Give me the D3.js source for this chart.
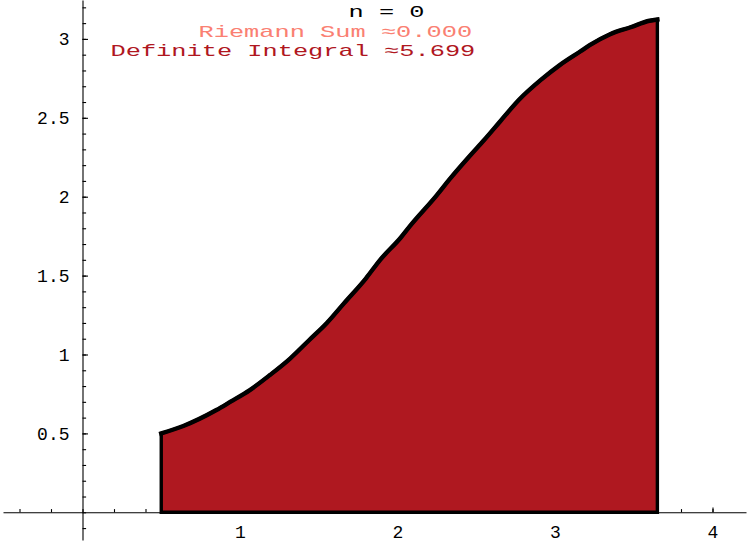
<!DOCTYPE html>
<html><head><meta charset="utf-8">
<script src="https://cdn.jsdelivr.net/npm/d3@7"></script>
<style>html,body{margin:0;padding:0;background:#fff;}svg{display:block;}</style>
</head><body>
<script>
// ---- data ----
const curveX = [0.50, 0.64, 0.85, 0.94, 1.06, 1.19, 1.32, 1.44, 1.55, 1.66, 1.80, 1.89, 2.02, 2.08, 2.25, 2.33, 2.46, 2.55, 2.65, 2.77, 2.91, 3.03, 3.16, 3.22, 3.35, 3.48, 3.60, 3.65];
const curveY = [0.500, 0.547, 0.648, 0.701, 0.773, 0.870, 0.976, 1.092, 1.198, 1.324, 1.483, 1.600, 1.740, 1.815, 2.010, 2.110, 2.260, 2.359, 2.475, 2.613, 2.740, 2.834, 2.920, 2.960, 3.030, 3.074, 3.115, 3.123];
const xTickValues = [1, 2, 3, 4];
const xTickLabels = ["1", "2", "3", "4"];
const yTickValues = [0.5, 1, 1.5, 2, 2.5, 3];
const yTickLabels = ["0.5", "1", "1.5", "2", "2.5", "3"];
const titleLines = [
  {text: "n = 0", color: "#000000"},
  {text: "Riemann Sum \u22480.000", color: "#FA8072"},
  {text: "Definite Integral \u22485.699", color: "#B0171F"}
];

const W = 750, H = 546;
const svg = d3.select("body").append("svg").attr("width", W).attr("height", H);

const x = d3.scaleLinear().domain([0, 4]).range([82.5, 712.5]);
const y = d3.scaleLinear().domain([0, 3]).range([512.3, 38.9]);

const tickFont = "'Liberation Mono', 'DejaVu Sans Mono', monospace";

// x axis
const xa = x.copy().domain([x.invert(3), x.invert(746)]).range([3, 746]);
const xMinor = d3.range(-0.4, 4.01, 0.2).map(v => +v.toFixed(2));
svg.append("g").attr("transform", "translate(0,512.3)")
  .call(d3.axisBottom(xa).tickValues(xMinor).tickSizeInner(-3.2).tickSizeOuter(0).tickFormat(""))
  .call(g => g.selectAll("line,path").attr("stroke", "#000").attr("stroke-width", 1.1));
svg.append("g").attr("transform", "translate(0,512.3)")
  .call(d3.axisBottom(xa).tickValues(xTickValues).tickSizeInner(-4.8).tickSizeOuter(0).tickPadding(13)
    .tickFormat((d, i) => xTickLabels[i]))
  .call(g => g.select(".domain").remove())
  .call(g => g.selectAll("line").attr("stroke", "#000").attr("stroke-width", 1.1))
  .call(g => g.selectAll("text").attr("font-family", tickFont).attr("font-size", 18).attr("fill", "#000"));

// y axis
const ya = y.copy().domain([y.invert(540), y.invert(0)]).range([540, 0]);
const yMinor = d3.range(-0.1, 3.21, 0.1).map(v => +v.toFixed(2));
svg.append("g").attr("transform", "translate(82.5,0)")
  .call(d3.axisLeft(ya).tickValues(yMinor).tickSizeInner(-3.6).tickSizeOuter(0).tickFormat(""))
  .call(g => g.selectAll("line,path").attr("stroke", "#000").attr("stroke-width", 1.1));
svg.append("g").attr("transform", "translate(82.5,0)")
  .call(d3.axisLeft(ya).tickValues(yTickValues).tickSizeInner(-5.5).tickSizeOuter(0).tickPadding(13)
    .tickFormat((d, i) => yTickLabels[i]))
  .call(g => g.select(".domain").remove())
  .call(g => g.selectAll("line").attr("stroke", "#000").attr("stroke-width", 1.1))
  .call(g => g.selectAll("text").attr("font-family", tickFont).attr("font-size", 18).attr("fill", "#000"));

// filled area
const pts = curveX.map((d, i) => [d, curveY[i]]);
const area = d3.area().x(d => x(d[0])).y0(y(0)).y1(d => y(d[1])).curve(d3.curveMonotoneX);
svg.append("path").datum(pts).attr("d", area)
  .attr("fill", "#AF1820").attr("stroke", "#000").attr("stroke-width", 3.4)
  .attr("stroke-linejoin", "miter");
const line = d3.line().x(d => x(d[0])).y(d => y(d[1])).curve(d3.curveMonotoneX);
svg.append("path").datum(pts).attr("d", line)
  .attr("fill", "none").attr("stroke", "#000").attr("stroke-width", 4.4).attr("stroke-linecap", "square");

// title text
const titleX = [348.5, 198.5, 110.5];
const titleY = [17, 36.5, 56];
const charW = 15.2;
svg.selectAll("text.title").data(titleLines).join("text")
  .attr("class", "title")
  .attr("x", (d, i) => titleX[i]).attr("y", (d, i) => titleY[i])
  .attr("font-family", tickFont).attr("font-size", 17)
  .attr("fill", d => d.color)
  .attr("textLength", d => d.text.length * charW)
  .attr("lengthAdjust", "spacingAndGlyphs")
  .text(d => d.text);
</script>
</body></html>
